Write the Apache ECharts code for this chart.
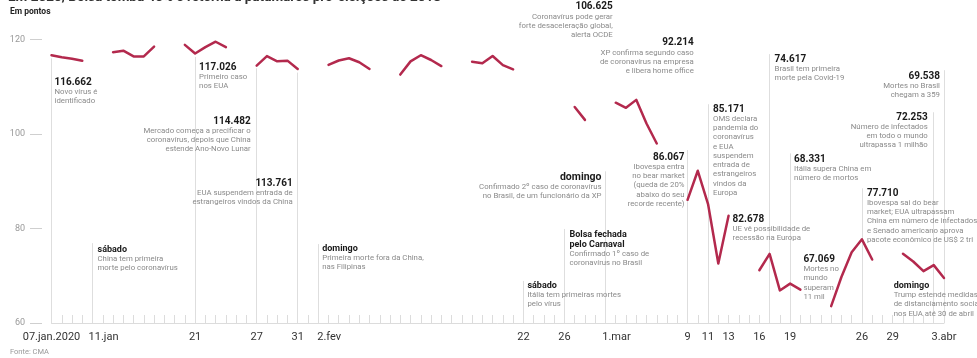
<!DOCTYPE html>
<html>
<head>
<meta charset="utf-8">
<script src="https://cdn.jsdelivr.net/npm/echarts@6/dist/echarts.min.js"></script>
<style>
html,body{margin:0;padding:0;background:#fff;}
#chart{width:977px;height:358px;}
</style>
</head>
<body>
<div id="chart"></div>
<script>
// ---------- DATA ----------
const START_UTC = Date.UTC(2020, 0, 7);
const DAY_COUNT = 88; // 07.jan.2020 .. 03.abr.2020
const categories = [];
for (let i = 0; i < DAY_COUNT; i++) {
  categories.push(new Date(START_UTC + i * 86400000).toISOString().slice(0, 10));
}

// Ibovespa close, thousand points (null = no trading / not drawn)
const ibovespa = [
  116.662, 116.247, 115.947, 115.503, null, null,
  117.325, 117.632, 116.414, 116.415, 118.478, null, null,
  118.862, 117.026, 118.391, 119.528, 118.376, null, null,
  114.482, 116.479, 115.385, 115.528, 113.761, null, null,
  114.629, 115.557, 116.028, 115.190, 113.770, null, null,
  112.570, 115.371, 116.674, 115.662, 114.381, null, null,
  115.309, 114.977, 116.518, 114.586, 113.681, null, null,
  null, null, null, 105.718, 102.984, null, null,
  106.625, 105.537, 107.224, 102.233, 97.997, null, null,
  86.067, 92.214, 85.171, 72.583, 82.678, null, null,
  71.168, 74.617, 66.895, 68.331, 67.069, null, null,
  63.570, 69.729, 74.956, 77.710, 73.429, null, null,
  74.640, 73.020, 70.967, 72.253, 69.538
];

const tickDays   = [0, 4, 14, 20, 24, 26, 46, 50, 54, 62, 64, 66, 69, 72, 79, 82, 87];
const tickLabels = ['07.jan.2020', '11.jan', '21', '27', '31', '2.fev', '22', '26', '1.mar', '9', '11', '13', '16', '19', '26', '29', '3.abr'];
const shiftedLabels = ['11.jan', '2.fev', '1.mar'];

const yTicks = [60, 80, 100, 120];

const titleText = 'Em 2020, Bolsa tomba 40% e retorna a patamares pré-eleições de 2018';
const unitText = 'Em pontos';
const sourceText = 'Fonte: CMA';

// annotations (content)
const notes = [
  { day: 0,  head: ['116.662'], body: ['Novo vírus é', 'identificado'] },
  { day: 4,  head: ['sábado'], word: true, body: ['China tem primeira', 'morte pelo coronavírus'] },
  { day: 14, head: ['117.026'], body: ['Primeiro caso', 'nos EUA'] },
  { day: 20, head: ['114.482'], body: ['Mercado começa a precificar o', 'coronavírus, depois que China', 'estende Ano-Novo Lunar'] },
  { day: 24, head: ['113.761'], body: ['EUA suspendem entrada de', 'estrangeiros vindos da China'] },
  { day: 26, head: ['domingo'], word: true, body: ['Primeira morte fora da China,', 'nas Filipinas'] },
  { day: 46, head: ['sábado'], word: true, body: ['Itália tem primeiras mortes', 'pelo vírus'] },
  { day: 50, head: ['Bolsa fechada', 'pelo Carnaval'], word: true, body: ['Confirmado 1º caso de', 'coronavírus no Brasil'] },
  { day: 54, head: ['domingo'], word: true, big: true, body: ['Confirmado 2º caso de coronavírus', 'no Brasil, de um funcionário da XP'] },
  { day: 55, head: ['106.625'], body: ['Coronavírus pode gerar', 'forte desaceleração global,', 'alerta OCDE'] },
  { day: 63, head: ['92.214'], body: ['XP confirma segundo caso', 'de coronavírus na empresa', 'e libera home office'] },
  { day: 62, head: ['86.067'], body: ['Ibovespa entra', 'no bear market', '(queda de 20%', 'abaixo do seu', 'recorde recente)'] },
  { day: 64, head: ['85.171'], body: ['OMS declara', 'pandemia do', 'coronavírus', 'e EUA', 'suspendem', 'entrada de', 'estrangeiros', 'vindos da', 'Europa'] },
  { day: 66, head: ['82.678'], body: ['UE vê possibilidade de', 'recessão na Europa'] },
  { day: 70, head: ['74.617'], body: ['Brasil tem primeira', 'morte pela Covid-19'] },
  { day: 72, head: ['68.331'], body: ['Itália supera China em', 'número de mortos'] },
  { day: 73, head: ['67.069'], body: ['Mortes no', 'mundo', 'superam', '11 mil'] },
  { day: 79, head: ['77.710'], body: ['Ibovespa sai do bear', 'market; EUA ultrapassam', 'China em número de infectados', 'e Senado americano aprova', 'pacote econômico de US$ 2 tri'] },
  { day: 82, head: ['domingo'], word: true, body: ['Trump estende medidas', 'de distanciamento social', 'nos EUA até 30 de abril'] },
  { day: 86, head: ['72.253'], body: ['Número de infectados', 'em todo o mundo', 'ultrapassa 1 milhão'] },
  { day: 87, head: ['69.538'], body: ['Mortes no Brasil', 'chegam a 359'] }
];

// annotation layout (same order): text top in axis units, side, pixel gap, leader-line start in axis units
const noteLayout = [
  { top: 112.05, align: 'left',  dx: 3, from: 116.0 },
  { top: 76.65,  align: 'left',  dx: 5, from: 76.9 },
  { top: 115.23, align: 'left',  dx: 4, from: 116.3 },
  { top: 103.78, align: 'right', dx: 6, from: 113.9 },
  { top: 90.64,  align: 'right', dx: 5, from: 113.0 },
  { top: 76.86,  align: 'left',  dx: 4, from: 76.7 },
  { top: 69.01,  align: 'left',  dx: 4, from: 68.9 },
  { top: 79.83,  align: 'left',  dx: 5, from: 79.9 },
  { top: 91.91,  align: 'right', dx: 4, from: 92.1 },
  { top: 127.95, align: 'right', dx: 3, from: 125.8 },
  { top: 120.32, align: 'right', dx: 4, from: 120.3 },
  { top: 96.15,  align: 'right', dx: 3, from: 96.6 },
  { top: 106.33, align: 'left',  dx: 5, from: 106.3 },
  { top: 83.01,  align: 'left',  dx: 4, from: null },
  { top: 116.93, align: 'left',  dx: 5, from: 116.9 },
  { top: 95.73,  align: 'left',  dx: 4, from: 95.9 },
  { top: 74.53,  align: 'left',  dx: 3, from: null },
  { top: 88.52,  align: 'left',  dx: 5, from: 88.5 },
  { top: 69.01,  align: 'left',  dx: 1, from: null },
  { top: 104.63, align: 'right', dx: 6, from: 104.6 },
  { top: 113.32, align: 'right', dx: 4, from: 113.5 }
];

// ---------- CHART ----------
const FONT = 'Roboto, "Noto Sans", sans-serif';
const LINE_COLOR = '#b3294d';
const chart = echarts.init(document.getElementById('chart'), null, { renderer: 'canvas' });

const labelMap = {};
tickDays.forEach((d, i) => { labelMap[d] = tickLabels[i]; });

const leaderData = [];
notes.forEach((n, i) => {
  const l = noteLayout[i];
  if (l.from !== null) {
    leaderData.push([{ coord: [categories[n.day], l.from] }, { coord: [categories[n.day], yTicks[0]] }]);
  }
});

const option = {
  animation: false,
  backgroundColor: '#fff',
  textStyle: { fontFamily: FONT },
  grid: { left: 51.5, right: 33, top: 39.5, bottom: 35 },
  xAxis: {
    type: 'category',
    data: categories,
    boundaryGap: false,
    axisLine: { show: true, lineStyle: { color: '#dcdcdc', width: 1 } },
    axisTick: { show: true, inside: true, length: 8, interval: 0, lineStyle: { color: '#dcdcdc' } },
    axisLabel: {
      interval: 0, margin: 9, color: '#333', fontSize: 11, fontFamily: FONT,
      showMinLabel: true, showMaxLabel: true, hideOverlap: false,
      formatter: function (v, idx) {
        const t = labelMap[idx];
        if (!t) return '';
        return shiftedLabels.indexOf(t) >= 0 ? '{s|' + t + '}' : t;
      },
      rich: { s: { padding: [0, 0, 0, 22], color: '#333', fontSize: 11, fontFamily: FONT } }
    },
    splitLine: { show: false }
  },
  yAxis: {
    type: 'value', min: yTicks[0], max: yTicks[yTicks.length - 1], interval: 20,
    offset: 9.5,
    axisLine: { show: false },
    axisTick: { show: true, length: 12, lineStyle: { color: '#cfcfcf' } },
    axisLabel: { margin: 17, color: '#999', fontSize: 9, fontFamily: FONT },
    splitLine: { show: false }
  },
  series: [
    {
      type: 'line', name: 'leaders', data: [], z: 1, clip: false, silent: true,
      markLine: {
        silent: true, symbol: ['none', 'none'], animation: false,
        label: { show: false },
        lineStyle: { color: '#dedede', width: 1, type: 'solid' },
        emphasis: { disabled: true },
        data: leaderData
      }
    },
    {
      type: 'line', name: 'Ibovespa', data: ibovespa, z: 5,
      showSymbol: false, connectNulls: false, silent: true,
      lineStyle: { color: LINE_COLOR, width: 2.5, join: 'round', cap: 'round' },
      itemStyle: { color: LINE_COLOR }
    }
  ]
};
chart.setOption(option);

// ---------- ANNOTATION TEXTS ----------
const graphics = [];
graphics.push({
  type: 'text', left: 8, top: -9,
  style: { text: titleText, fill: '#333', font: 'bold 13.5px ' + FONT }
});
graphics.push({
  type: 'text', left: 10, top: 7,
  style: { text: unitText, fill: '#222', font: 'bold 8.5px ' + FONT }
});
graphics.push({
  type: 'text', left: 10, top: 348,
  style: { text: sourceText, fill: '#999', font: '7.5px ' + FONT }
});

notes.forEach((n, i) => {
  const l = noteLayout[i];
  const p = chart.convertToPixel({ gridIndex: 0 }, [n.day, l.top]);
  const hs = n.word ? (n.big ? 'wb' : 'w') : 'h';
  const parts = n.head.map(h => '{' + hs + '|' + h + '}').concat(n.body.map(b => '{b|' + b + '}'));
  graphics.push({
    type: 'text',
    x: l.align === 'left' ? p[0] + l.dx : p[0] - l.dx,
    y: p[1],
    z: 10,
    style: {
      text: parts.join('\n'),
      align: l.align,
      verticalAlign: 'top',
      rich: {
        h:  { fontFamily: FONT, fontSize: 10, fontWeight: 'bold', fill: '#1a1a1a', lineHeight: 10, align: l.align },
        w:  { fontFamily: FONT, fontSize: 9,  fontWeight: 'bold', fill: '#1a1a1a', lineHeight: 10, align: l.align },
        wb: { fontFamily: FONT, fontSize: 10.5, fontWeight: 'bold', fill: '#1a1a1a', lineHeight: 10, align: l.align },
        b:  { fontFamily: FONT, fontSize: 7.8, fill: '#8a8a8a', lineHeight: 9.3, align: l.align }
      }
    }
  });
});

chart.setOption({ graphic: graphics });
</script>
</body>
</html>
